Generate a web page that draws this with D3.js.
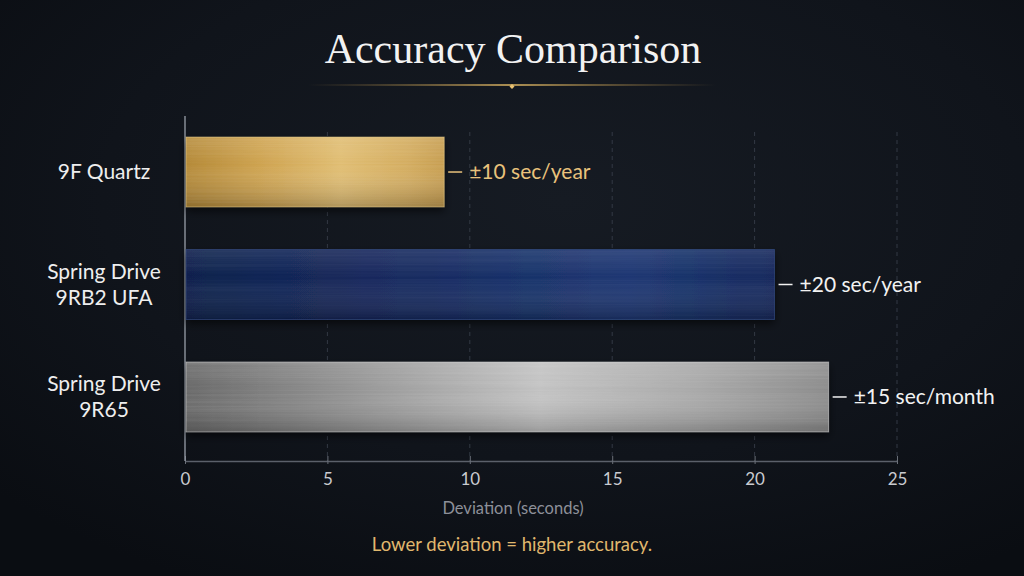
<!DOCTYPE html>
<html>
<head>
<meta charset="utf-8">
<script src="https://cdn.jsdelivr.net/npm/d3@7"></script>
<style>
  html, body { margin: 0; padding: 0; background: #0f131a; }
  svg { display: block; }
</style>
</head>
<body>
<div id="chart"></div>
<script>
const FRAME_WIDTH = 1024;
const FRAME_HEIGHT = 576;
const MARGINS = {left: 185, right: 127, top: 116, bottom: 115};

// data
const categories = ["9F Quartz", "Spring Drive 9RB2 UFA", "Spring Drive 9R65"];
const categoryLines = [["9F Quartz"], ["Spring Drive", "9RB2 UFA"], ["Spring Drive", "9R65"]];
const deviations = [9.1, 20.7, 22.6];
const valueLabels = ["±10 sec/year", "±20 sec/year", "±15 sec/month"];
const xTicks = [0, 5, 10, 15, 20, 25];

const FRAME = d3.select("#chart")
  .append("svg")
    .attr("width", FRAME_WIDTH)
    .attr("height", FRAME_HEIGHT);

const defs = FRAME.append("defs");

// background
const bg = defs.append("radialGradient").attr("id", "bg")
  .attr("cx", "55%").attr("cy", "35%").attr("r", "75%");
bg.append("stop").attr("offset", "0%").attr("stop-color", "#161b23");
bg.append("stop").attr("offset", "60%").attr("stop-color", "#10141b");
bg.append("stop").attr("offset", "100%").attr("stop-color", "#0a0d12");

// bar fills
function barGrad(id, stops) {
  const g = defs.append("linearGradient").attr("id", id)
    .attr("x1", "0%").attr("x2", "100%").attr("y1", "0%").attr("y2", "0%");
  stops.forEach((s) => g.append("stop").attr("offset", s[0]).attr("stop-color", s[1]));
}
barGrad("gold", [["0%", "#b58a38"], ["30%", "#cfa451"], ["60%", "#e0bd72"], ["85%", "#d4ad60"], ["100%", "#c79e50"]]);
barGrad("navy", [["0%", "#0e1f4c"], ["40%", "#152a60"], ["75%", "#1c3672"], ["100%", "#13285c"]]);
barGrad("steel", [["0%", "#686868"], ["30%", "#9a9a9a"], ["55%", "#c2c2c2"], ["80%", "#a8a8a8"], ["100%", "#8c8c8c"]]);

// vertical shading on bars
const shade = defs.append("linearGradient").attr("id", "shade")
  .attr("x1", "0%").attr("x2", "0%").attr("y1", "0%").attr("y2", "100%");
shade.append("stop").attr("offset", "0%").attr("stop-color", "#fff").attr("stop-opacity", 0.10);
shade.append("stop").attr("offset", "40%").attr("stop-color", "#fff").attr("stop-opacity", 0.0);
shade.append("stop").attr("offset", "100%").attr("stop-color", "#000").attr("stop-opacity", 0.22);

// brushed streaks
const brushed = defs.append("filter").attr("id", "brushed")
  .attr("x", "0").attr("y", "0").attr("width", "100%").attr("height", "100%");
brushed.append("feTurbulence").attr("type", "fractalNoise")
  .attr("baseFrequency", "0.003 0.7").attr("numOctaves", 2).attr("seed", 4).attr("result", "noise");
brushed.append("feColorMatrix").attr("in", "noise").attr("type", "matrix")
  .attr("values", "0 0 0 0 1  0 0 0 0 1  0 0 0 0 1  0 0 0 0.3 -0.1").attr("result", "streaks");
brushed.append("feComposite").attr("in", "streaks").attr("in2", "SourceGraphic").attr("operator", "in");

const shadow = defs.append("filter").attr("id", "shadow")
  .attr("x", "-5%").attr("y", "-20%").attr("width", "110%").attr("height", "150%");
shadow.append("feDropShadow").attr("dx", 0).attr("dy", 4).attr("stdDeviation", 4)
  .attr("flood-color", "#000").attr("flood-opacity", 0.6);

const lineGrad = defs.append("linearGradient").attr("id", "titleLine")
  .attr("gradientUnits", "userSpaceOnUse")
  .attr("x1", 308).attr("x2", 716).attr("y1", 0).attr("y2", 0);
lineGrad.append("stop").attr("offset", "0%").attr("stop-color", "#b08a45").attr("stop-opacity", 0);
lineGrad.append("stop").attr("offset", "50%").attr("stop-color", "#e0b865").attr("stop-opacity", 1);
lineGrad.append("stop").attr("offset", "100%").attr("stop-color", "#b08a45").attr("stop-opacity", 0);

FRAME.append("rect")
  .attr("width", FRAME_WIDTH).attr("height", FRAME_HEIGHT)
  .attr("fill", "url(#bg)");

// title
FRAME.append("text")
  .attr("x", 513).attr("y", 63)
  .attr("text-anchor", "middle")
  .attr("font-family", "'Liberation Serif', 'DejaVu Serif', serif")
  .attr("font-size", "42px")
  .attr("fill", "#f2f2f2")
  .text("Accuracy Comparison");

FRAME.append("line")
  .attr("x1", 308).attr("x2", 716).attr("y1", 85).attr("y2", 85)
  .attr("stroke", "url(#titleLine)").attr("stroke-width", 1.3);
FRAME.append("path")
  .attr("d", "M512,84 L514.5,86.5 L512,89 L509.5,86.5 Z")
  .attr("fill", "#e8c070");

// scales
const X_SCALE = d3.scaleLinear()
  .domain([0, 25])
  .range([MARGINS.left, FRAME_WIDTH - MARGINS.right]);

const Y_SCALE = d3.scaleBand()
  .domain(categories)
  .range([116, 453])
  .paddingInner(0.378)
  .paddingOuter(0.187);

const AXIS_Y = FRAME_HEIGHT - MARGINS.bottom;

// dashed gridlines
FRAME.append("g")
  .selectAll("line")
  .data(xTicks.slice(1))
  .enter()
  .append("line")
    .attr("x1", (d) => X_SCALE(d)).attr("x2", (d) => X_SCALE(d))
    .attr("y1", 132).attr("y2", AXIS_Y)
    .attr("stroke", "#333944")
    .attr("stroke-width", 1)
    .attr("stroke-dasharray", "4,4");

// x axis
const xAxis = FRAME.append("g")
  .attr("transform", "translate(0," + AXIS_Y + ")")
  .call(d3.axisBottom(X_SCALE).tickValues(xTicks).tickSize(5).tickSizeOuter(0));
xAxis.select(".domain").attr("stroke", "#5b606a").attr("stroke-width", 1.5);
xAxis.selectAll(".tick line").attr("stroke", "#6a6f78").attr("y1", -5).attr("y2", 3);
xAxis.selectAll(".tick text")
  .attr("y", 12)
  .attr("font-family", "Lato, 'Open Sans', sans-serif")
  .attr("font-size", "17px")
  .attr("fill", "#c9cbd0");

// y axis line
FRAME.append("line")
  .attr("x1", MARGINS.left).attr("x2", MARGINS.left)
  .attr("y1", 116).attr("y2", AXIS_Y)
  .attr("stroke", "#9aa0aa").attr("stroke-width", 1.3);

// bars
const fills = ["url(#gold)", "url(#navy)", "url(#steel)"];
const edges = ["#e9cf8e", "#3a5490", "#dcdcdc"];
const streakOpacity = [0.45, 0.25, 0.5];

const bars = FRAME.append("g").selectAll("g.bar")
  .data(categories)
  .enter()
  .append("g")
    .attr("class", "bar");

bars.append("rect")
  .attr("x", X_SCALE(0) + 1)
  .attr("y", (d) => Y_SCALE(d))
  .attr("width", (d, i) => X_SCALE(deviations[i]) - X_SCALE(0) - 1)
  .attr("height", Y_SCALE.bandwidth())
  .attr("fill", (d, i) => fills[i])
  .attr("filter", "url(#shadow)");

bars.append("rect")
  .attr("x", X_SCALE(0) + 1)
  .attr("y", (d) => Y_SCALE(d))
  .attr("width", (d, i) => X_SCALE(deviations[i]) - X_SCALE(0) - 1)
  .attr("height", Y_SCALE.bandwidth())
  .attr("fill", "#888")
  .attr("filter", "url(#brushed)")
  .attr("opacity", (d, i) => streakOpacity[i]);

bars.append("rect")
  .attr("x", X_SCALE(0) + 1)
  .attr("y", (d) => Y_SCALE(d))
  .attr("width", (d, i) => X_SCALE(deviations[i]) - X_SCALE(0) - 1)
  .attr("height", Y_SCALE.bandwidth())
  .attr("fill", "url(#shade)")
  .attr("stroke", (d, i) => edges[i])
  .attr("stroke-opacity", 0.55)
  .attr("stroke-width", 1);

// value labels
const valueColors = ["#e9c27c", "#f2f2f2", "#f2f2f2"];
const cy = (d) => Y_SCALE(d) + Y_SCALE.bandwidth() / 2;

bars.append("line")
  .attr("x1", (d, i) => X_SCALE(deviations[i]) + 4)
  .attr("x2", (d, i) => X_SCALE(deviations[i]) + 18)
  .attr("y1", cy).attr("y2", cy)
  .attr("stroke", (d, i) => valueColors[i])
  .attr("stroke-width", 1.5);

bars.append("text")
  .attr("x", (d, i) => X_SCALE(deviations[i]) + 25)
  .attr("y", cy)
  .attr("dy", "0.35em")
  .attr("font-family", "Lato, 'Open Sans', sans-serif")
  .attr("font-size", "21px")
  .attr("fill", (d, i) => valueColors[i])
  .text((d, i) => valueLabels[i]);

// category labels
bars.append("text")
  .attr("text-anchor", "middle")
  .attr("font-family", "Lato, 'Open Sans', sans-serif")
  .attr("font-size", "21px")
  .attr("fill", "#eeeeee")
  .each(function (d, i) {
    const lines = categoryLines[i];
    const t = d3.select(this);
    lines.forEach((ln, j) => {
      t.append("tspan")
        .attr("x", 104)
        .attr("y", cy(d) + (j - (lines.length - 1) / 2) * 26)
        .attr("dy", "0.35em")
        .text(ln);
    });
  });

// axis title
FRAME.append("text")
  .attr("x", 513).attr("y", 514)
  .attr("text-anchor", "middle")
  .attr("font-family", "Lato, 'Open Sans', sans-serif")
  .attr("font-size", "16.5px")
  .attr("fill", "#8d9099")
  .text("Deviation (seconds)");

// footnote
FRAME.append("text")
  .attr("x", 512).attr("y", 551)
  .attr("text-anchor", "middle")
  .attr("font-family", "Lato, 'Open Sans', sans-serif")
  .attr("font-size", "18.5px")
  .attr("fill", "#e0b86e")
  .text("Lower deviation = higher accuracy.");
</script>
</body>
</html>
